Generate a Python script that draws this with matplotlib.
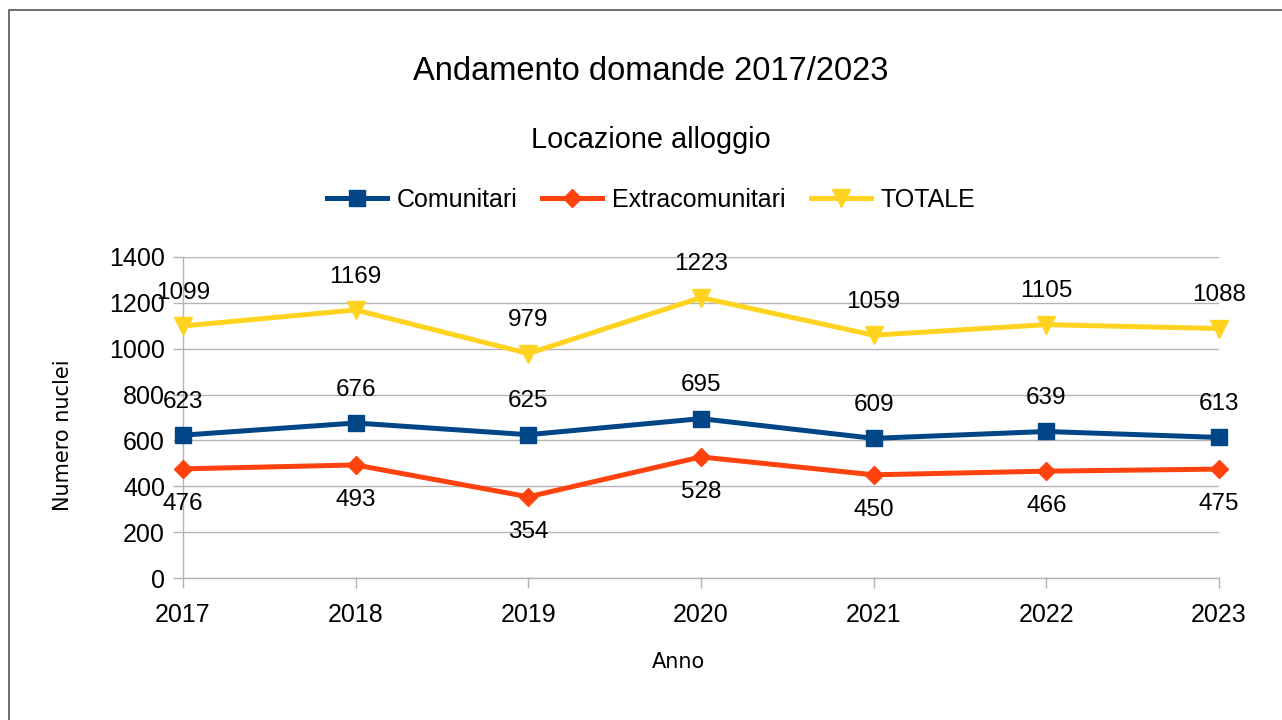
import matplotlib
matplotlib.use("Agg")
import matplotlib.pyplot as plt
from matplotlib.patches import Rectangle

anni = ["2017", "2018", "2019", "2020", "2021", "2022", "2023"]
comunitari = [623, 676, 625, 695, 609, 639, 613]
extracomunitari = [476, 493, 354, 528, 450, 466, 475]
totale = [1099, 1169, 979, 1223, 1059, 1105, 1088]

plt.rcParams['font.family'] = ['Liberation Sans', 'DejaVu Sans']

W, H = 1282, 720
fig = plt.figure(figsize=(W / 100, H / 100), dpi=100)
ax = fig.add_axes([183 / W, 1 - 578 / H, (1219 - 183) / W, (578 - 257) / H])

x = list(range(len(anni)))
series = [
    ("Comunitari", comunitari, "#004586", "s", 12, "above"),
    ("Extracomunitari", extracomunitari, "#ff420e", "D", 9, "below"),
    ("TOTALE", totale, "#ffd320", "v", 13, "above"),
]
for name, vals, col, mk, ms, pos in series:
    ax.plot(x, vals, color=col, lw=3.6, marker=mk, markersize=ms, label=name,
            solid_joinstyle="miter", zorder=3, clip_on=False)
    for xi, v in zip(x, vals):
        off = 24 if pos == "above" else -25
        ax.annotate(str(v), (xi, v), xytext=(0, off), textcoords="offset points",
                    ha="center", va="center", fontsize=17.5, zorder=4)

ax.set_xlim(0, len(anni) - 1)
ax.set_ylim(0, 1400)
ax.set_yticks(range(0, 1401, 200))
ax.set_xticks(x)
ax.set_xticklabels(anni)
ax.tick_params(axis="both", labelsize=18, length=7, width=1, color="#b3b3b3")
ax.tick_params(axis="x", pad=11)
ax.tick_params(axis="y", pad=6)
ax.grid(axis="y", color="#b3b3b3", lw=1)
ax.set_axisbelow(True)
for s in ["top", "right"]:
    ax.spines[s].set_visible(False)
for s in ["left", "bottom"]:
    ax.spines[s].set_color("#b3b3b3")
    ax.spines[s].set_linewidth(1)

cx = 651 / W
fig.text(cx, 1 - 72 / H, "Andamento domande 2017/2023", ha="center", va="center", fontsize=23.5)
fig.text(cx, 1 - 140 / H, "Locazione alloggio", ha="center", va="center", fontsize=20.8)
fig.text(678 / W, 1 - 662 / H, "Anno", ha="center", va="center", fontsize=15,
         family="DejaVu Sans")
fig.text(63 / W, 1 - 435 / H, "Numero nuclei", ha="center", va="center", fontsize=15,
         rotation=90, family="DejaVu Sans")

fig.legend(loc="center", bbox_to_anchor=(cx, 1 - 200 / H), ncol=3, frameon=False,
           fontsize=18, handlelength=2.4, columnspacing=1.0, handletextpad=0.4)

fig.patches.append(Rectangle((8.5 / W, -0.5), 2, 1.5 - 9.5 / H, transform=fig.transFigure,
                             fill=False, edgecolor="#555555", lw=1.2))

fig.savefig("out.png", dpi=100)
